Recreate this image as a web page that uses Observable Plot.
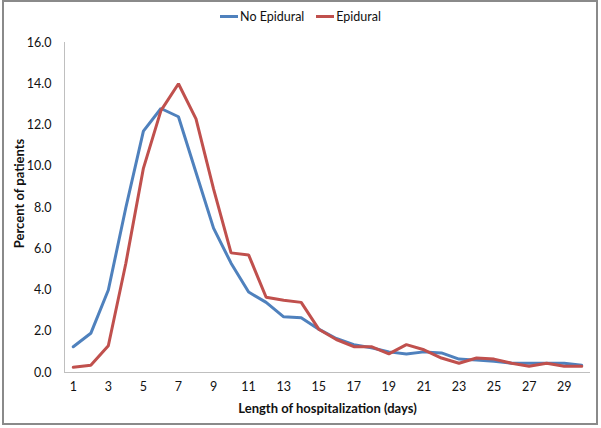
<!DOCTYPE html>
<html>
<head>
<meta charset="utf-8">
<script src="https://cdn.jsdelivr.net/npm/d3@7"></script>
<script src="https://cdn.jsdelivr.net/npm/@observablehq/plot@0.6"></script>
<style>
  html, body { margin: 0; padding: 0; background: #fff; }
  #wrap { position: relative; width: 601px; height: 428px; font-family: Lato, "Open Sans", sans-serif; overflow: hidden; }
  #frame { position: absolute; left: 2px; top: 0px; width: 596px; height: 425px; box-sizing: border-box; border: 2px solid #8a8a8a; pointer-events: none; }
  #legend { height: 30px; display: flex; justify-content: center; align-items: center; gap: 12px; font-size: 12.5px; color: #111; padding-top: 2px; box-sizing: border-box; }
  .item { display: flex; align-items: center; }
  .sw { display: inline-block; width: 18px; height: 3px; margin-right: 2px; }
  svg { display: block; }
</style>
</head>
<body>
<div id="wrap">
  <div id="legend"></div>
  <div id="chart"></div>
  <div id="frame"></div>
</div>
<script>
const days = d3.range(1, 31);
const seriesNames = ["No Epidural", "Epidural"];
const seriesColors = ["#4F81BD", "#C0504D"];
const noEpidural = [1.25, 1.9, 4.0, 8.0, 11.7, 12.8, 12.4, 9.7, 7.0, 5.3,
                    3.9, 3.4, 2.7, 2.65, 2.1, 1.65, 1.35, 1.2, 1.0, 0.9,
                    1.0, 0.95, 0.65, 0.6, 0.55, 0.45, 0.45, 0.45, 0.45, 0.35];
const epidural = [0.25, 0.35, 1.3, 5.3, 9.9, 12.7, 14.0, 12.3, 8.9, 5.8,
                  5.7, 3.65, 3.5, 3.4, 2.1, 1.6, 1.25, 1.25, 0.9, 1.35,
                  1.1, 0.7, 0.45, 0.7, 0.65, 0.45, 0.3, 0.45, 0.3, 0.3];
const xTicks = d3.range(1, 30, 2);
const yTicks = d3.range(0, 17, 2);
const xTitle = "Length of hospitalization (days)";
const yTitle = "Percent of patients";

const rows = [];
days.forEach((d, i) => {
  rows.push({day: d, value: noEpidural[i], series: seriesNames[0]});
  rows.push({day: d, value: epidural[i], series: seriesNames[1]});
});

// legend
const legend = document.getElementById("legend");
seriesNames.forEach((name, i) => {
  const item = document.createElement("span");
  item.className = "item";
  const sw = document.createElement("span");
  sw.className = "sw";
  sw.style.background = seriesColors[i];
  item.appendChild(sw);
  item.appendChild(document.createTextNode(name));
  legend.appendChild(item);
});

const chart = Plot.plot({
  width: 601,
  height: 398,
  marginLeft: 64,
  marginRight: 11,
  marginTop: 12,
  marginBottom: 56,
  style: {fontFamily: "Lato, 'Open Sans', sans-serif", fontSize: "12.5px", color: "#111", background: "#fff"},
  x: {type: "linear", domain: [0.5, 30.5], ticks: xTicks, tickSize: 0, tickPadding: 10, tickFormat: d3.format("d"),
      label: xTitle, labelArrow: "none", labelAnchor: "center", labelOffset: 40},
  y: {domain: [0, 16], ticks: yTicks, tickSize: 0, tickPadding: 13, tickFormat: d3.format(".1f"),
      label: yTitle, labelArrow: "none", labelAnchor: "center", labelOffset: 50},
  color: {domain: seriesNames, range: seriesColors},
  marks: [
    Plot.ruleY([0], {stroke: "#bfbfbf", strokeWidth: 1}),
    Plot.ruleX([0.5], {stroke: "#bfbfbf", strokeWidth: 1}),
    Plot.line(rows, {x: "day", y: "value", z: "series", stroke: "series", strokeWidth: 3, strokeLinejoin: "miter", curve: "linear"})
  ]
});
document.getElementById("chart").appendChild(chart);
// bold axis titles, no arrows
[["x-axis label", xTitle], ["y-axis label", yTitle]].forEach(([lab, title]) => {
  chart.querySelectorAll(`[aria-label='${lab}'] text, text[aria-label='${lab}']`).forEach(e => {
    e.textContent = title;
    e.style.fontWeight = "bold";
    e.style.fontSize = "13px";
    if (lab === "y-axis label") {
      const t = e.getAttribute("transform") || "";
      e.setAttribute("transform", "translate(0,-14) " + t);
    }
  });
});
</script>
</body>
</html>
